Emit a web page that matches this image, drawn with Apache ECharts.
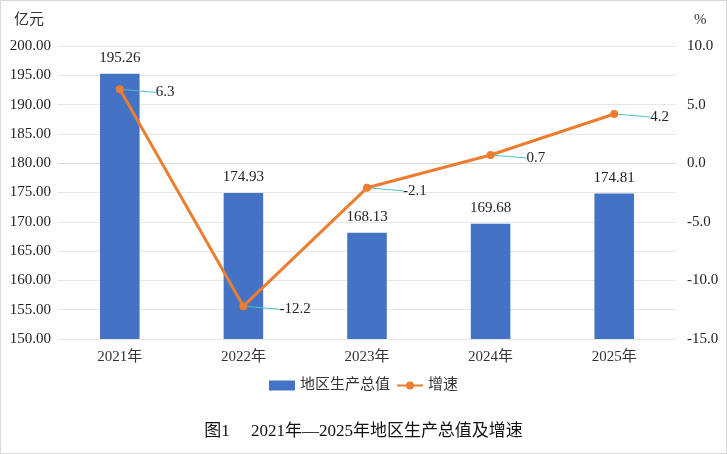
<!DOCTYPE html>
<html>
<head>
<meta charset="utf-8">
<script src="https://cdn.jsdelivr.net/npm/echarts@6/dist/echarts.min.js"></script>
<style>
	html, body { margin: 0; padding: 0; background: #fff; }
	#chart { width: 727px; height: 454px; box-sizing: border-box; border: 1px solid #d9d9d9; }
</style>
</head>
<body>
<div id="chart"></div>
<script>
	'use strict';

	// DATA
	var years = ['2021年', '2022年', '2023年', '2024年', '2025年'];
	var gdp = [195.26, 174.93, 168.13, 169.68, 174.81];
	var growth = [6.3, -12.2, -2.1, 0.7, 4.2];

	var serif = '"Liberation Serif", "Noto Sans CJK SC", serif';
	var chart = echarts.init(document.getElementById('chart'));
	var option = {
		textStyle: { fontFamily: serif },
		grid: {
			top: 45,
			right: 50,
			bottom: 114,
			left: 57
		},
		legend: {
			bottom: 55,
			left: 'center',
			itemGap: 6,
			itemWidth: 26,
			itemHeight: 10,
			textStyle: { fontSize: 15, color: '#333', fontFamily: serif },
			data: [
				{ name: '地区生产总值', icon: 'rect' },
				{ name: '增速' }
			]
		},
		title: {
			text: '图1\u3000 2021年—2025年地区生产总值及增速',
			left: 'center',
			bottom: 8,
			textStyle: { fontSize: 17, fontWeight: 'normal', color: '#111', fontFamily: serif }
		},
		xAxis: {
			type: 'category',
			data: years,
			axisTick: { show: false },
			axisLine: { lineStyle: { color: '#d9d9d9', width: 1 } },
			axisLabel: { fontSize: 15, color: '#333', margin: 11 }
		},
		yAxis: [{
			type: 'value',
			name: '亿元',
			nameGap: 18,
			nameTextStyle: { fontSize: 15, color: '#333', align: 'right', padding: [0, 14, 0, 0] },
			min: 150,
			max: 200,
			interval: 5,
			axisLine: { show: false },
			axisTick: { show: false },
			splitLine: { lineStyle: { color: '#e6e6e6' } },
			axisLabel: {
				fontSize: 15,
				color: '#222',
				margin: 7,
				formatter: function(v) { return v.toFixed(2); }
			}
		}, {
			type: 'value',
			name: '%',
			nameGap: 18,
			nameTextStyle: { fontSize: 15, color: '#333', align: 'left', padding: [0, 0, 0, 18] },
			min: -15,
			max: 10,
			interval: 5,
			axisLine: { show: false },
			axisTick: { show: false },
			splitLine: { show: false },
			axisLabel: {
				fontSize: 15,
				color: '#222',
				margin: 11,
				formatter: function(v) { return v.toFixed(1); }
			}
		}],
		series: [{
			name: '地区生产总值',
			type: 'bar',
			barWidth: '32%',
			data: gdp,
			itemStyle: { color: '#4472c4' },
			label: {
				show: true,
				position: 'top',
				distance: 8,
				fontSize: 15,
				color: '#222',
				formatter: function(p) { return p.value.toFixed(2); }
			}
		}, {
			name: '增速',
			type: 'line',
			yAxisIndex: 1,
			data: growth,
			symbol: 'circle',
			symbolSize: 8,
			lineStyle: { color: '#ed7d31', width: 3 },
			itemStyle: { color: '#ed7d31' },
			label: {
				show: true,
				position: 'right',
				distance: 6,
				fontSize: 15,
				color: '#222',
				formatter: function(p) { return p.value.toFixed(1); }
			},
			labelLayout: { dx: 26, dy: 3 },
			labelLine: {
				show: true,
				lineStyle: { color: '#4bc4c4', width: 1 }
			}
		}]
	};
	chart.setOption(option);
</script>
</body>
</html>
